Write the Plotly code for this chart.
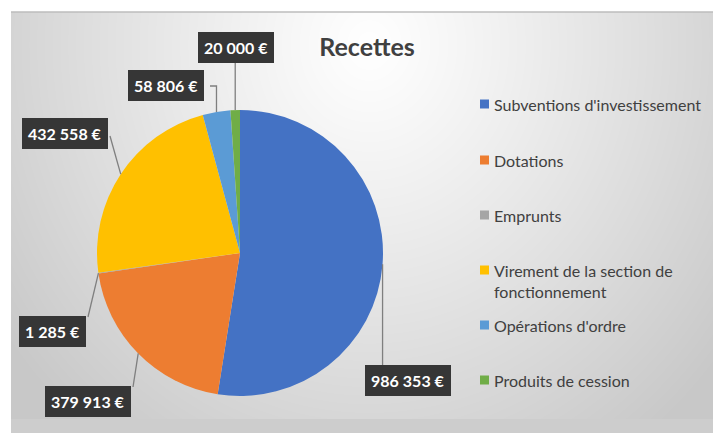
import math, zlib, struct, base64, textwrap
import numpy as np
import plotly.graph_objects as go

# ---------------- data ----------------
labels = ["Subventions d'investissement", "Dotations", "Emprunts",
          "Virement de la section de fonctionnement", "Opérations d'ordre",
          "Produits de cession"]
values = [986353, 379913, 1285, 432558, 58806, 20000]
colors = ["#4472C4", "#ED7D31", "#A5A5A5", "#FFC000", "#5B9BD5", "#70AD47"]
title_text = "Recettes"

# ---------------- layout constants (pixels) ----------------
W, H = 713, 433
CX, CY, R = 240, 253, 143                     # pie centre / radius
label_pos = [(408, 380), (88, 401), (52, 331), (65, 133), (166, 86), (236, 47)]
# leader-line waypoints after the slice edge point (None x -> same x as edge)
leader_pts = [[(None, 366)], [(133, 387)], [(88, 317)], [(110, 136)],
              [(None, 86), (210, 86)], [(None, 62)]]
legend_y = [104, 160, 215, 270, 325, 380]
LEG_X = 480
AREA = (11, 12, 713, 419)                      # chart area x0, y0, x1, y1


def px(x):
    return x / W


def py(y):
    return 1 - y / H


def fmt(v):
    return f"{v:,}".replace(",", "\u202f") + " €"


# ---------------- background gradient image ----------------
def gradient_png(w, h):
    yy, xx = np.mgrid[0:h, 0:w]
    dx = (xx - w * 0.51) / (w * 0.55)
    dy = (yy - h * 0.08) / (h * 1.05)
    d = np.clip(np.sqrt(dx ** 2 + dy ** 2), 0, 1.2)
    v = (255 - 46 * d ** 1.1).clip(200, 255).astype(np.uint8)
    arr = np.stack([v, v, v], axis=-1)
    raw = b"".join(b"\x00" + arr[i].tobytes() for i in range(h))

    def chunk(t, data):
        c = struct.pack(">I", len(data)) + t + data
        return c + struct.pack(">I", zlib.crc32(t + data) & 0xffffffff)

    png = b"\x89PNG\r\n\x1a\n"
    png += chunk(b"IHDR", struct.pack(">IIBBBBB", w, h, 8, 2, 0, 0, 0))
    png += chunk(b"IDAT", zlib.compress(raw, 9))
    png += chunk(b"IEND", b"")
    return "data:image/png;base64," + base64.b64encode(png).decode()


ax0, ay0, ax1, ay1 = AREA
img = gradient_png(ax1 - ax0, ay1 - ay0)

fig = go.Figure()
fig.add_trace(go.Pie(
    labels=labels, values=values, sort=False, direction="clockwise",
    rotation=0, textinfo="none", hoverinfo="label+value",
    marker=dict(colors=colors, line=dict(width=0)),
    showlegend=False,
    domain=dict(x=[px(CX - R), px(CX + R)], y=[py(CY + R), py(CY - R)]),
))

# ---------------- data labels with leader lines ----------------
total = sum(values)
annotations = []
shapes = []
cum = 0
for v, (lx, ly), pts in zip(values, label_pos, leader_pts):
    mid = (cum + v / 2) / total * 2 * math.pi
    cum += v
    hx = CX + R * math.sin(mid)
    hy = CY - R * math.cos(mid)
    path = f"M {px(hx)} {py(hy)}"
    for (wx, wy) in pts:
        wx = hx if wx is None else wx
        path += f" L {px(wx)} {py(wy)}"
    shapes.append(dict(type="path", xref="paper", yref="paper", path=path,
                       line=dict(color="#7f7f7f", width=1.3)))
    annotations.append(dict(
        x=px(lx), y=py(ly), xref="paper", yref="paper",
        xanchor="center", yanchor="middle",
        text=f"<b>{fmt(v)}</b>", showarrow=False,
        bgcolor="#363636", borderpad=6, borderwidth=0,
        font=dict(family="Lato", size=16, color="white"),
    ))

# ---------------- manual legend ----------------
for lab, col, yc in zip(labels, colors, legend_y):
    shapes.append(dict(type="rect", xref="paper", yref="paper",
                       x0=px(LEG_X), x1=px(LEG_X + 9),
                       y0=py(yc + 4.5), y1=py(yc - 4.5),
                       fillcolor=col, line=dict(width=0)))
    annotations.append(dict(
        x=px(LEG_X + 12), y=py(yc - 11.5), xref="paper", yref="paper",
        xanchor="left", yanchor="top", align="left", showarrow=False,
        text="<br>".join(textwrap.wrap(lab, 28)),
        font=dict(family="Lato", size=16, color="#404040"),
    ))

# border strips
shapes.append(dict(type="rect", xref="paper", yref="paper", layer="below",
                   x0=px(ax0), x1=px(ax1), y0=py(H), y1=py(ay1),
                   fillcolor="#cdcdcd", line=dict(width=0)))
shapes.append(dict(type="line", xref="paper", yref="paper", layer="below",
                   x0=px(ax0), x1=px(ax1), y0=py(ay0), y1=py(ay0),
                   line=dict(color="#bdbdbd", width=1.5)))

fig.update_layout(
    width=W, height=H, margin=dict(l=0, r=0, t=0, b=0),
    paper_bgcolor="white", plot_bgcolor="white",
    title=dict(text=title_text, x=px(367), y=py(47), xanchor="center",
               yanchor="middle",
               font=dict(family="Lato", size=25, color="#404040", weight="bold")),
    annotations=annotations, shapes=shapes,
    images=[dict(source=img, xref="paper", yref="paper", x=px(ax0), y=py(ay0),
                 sizex=px(ax1) - px(ax0), sizey=py(ay0) - py(ay1),
                 xanchor="left", yanchor="top", sizing="stretch",
                 layer="below")],
)

fig.write_html("out.html", config={"displayModeBar": False},
               post_script="document.body.style.margin='0';"
                           "document.body.style.overflow='hidden';")
